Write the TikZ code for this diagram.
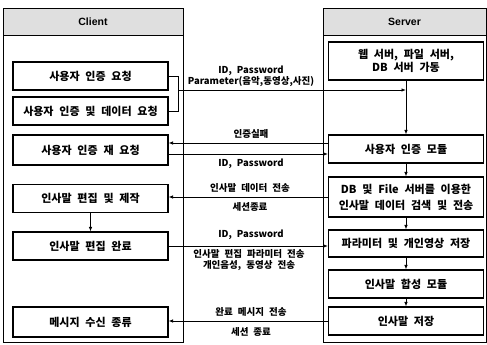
\documentclass[tikz,border=0pt]{standalone}
\usepackage{fontspec}
\setmainfont{Noto Sans CJK KR}[WordSpace=2.3]
\newfontfamily\hdrfont{Liberation Sans}
\usetikzlibrary{arrows.meta}
\begin{document}
\begin{tikzpicture}[x=1pt,y=-1pt,
  lane/.style={draw,line width=0.9pt},
  header/.style={draw,line width=0.9pt,fill=gray!25,minimum height=27pt,inner sep=0pt,font=\hdrfont\bfseries\fontsize{10.5}{12}\selectfont},
  box/.style={draw,line width=1.1pt,minimum width=155pt,minimum height=28pt,inner sep=1pt,align=center,font=\bfseries\fontsize{11}{13}\selectfont},
  lbl/.style={inner sep=0pt,font=\bfseries\fontsize{9.5}{11}\selectfont},
  conn/.style={line width=0.8pt},
  arr/.style={conn,-{Latex[length=4.5pt,width=3.5pt]}}]
\useasboundingbox (0,0) rectangle (487,345);
% lanes
\draw[lane] (3,8) rectangle (183,342);
\draw[lane] (323,8) rectangle (486,342);
\node[header,minimum width=180pt] (ch) at (93,21.5) {Client};
\node[header,minimum width=163pt] (sh) at (404.5,21.5) {Server};
% client boxes
\node[box] (c1) at (90.5,76) {사용자 인증 요청};
\node[box] (c2) at (90.5,111) {사용자 인증 및 데이터 요청};
\node[box,minimum height=30pt] (c3) at (90.5,150) {사용자 인증 재 요청};
\node[box] (c4) at (90.5,198.5) {인사말 편집 및 제작};
\node[box] (c5) at (90.5,246) {인사말 편집 완료};
\node[box,minimum height=30pt] (c6) at (90.5,322) {메시지 수신 종류};
% server boxes
\node[box,minimum height=38pt,font=\bfseries\fontsize{11}{12.5}\selectfont] (s1) at (406,61) {웹 서버, 파일 서버,\\DB 서버 가동};
\node[box] (s2) at (406,149) {사용자 인증 모듈};
\node[box,minimum height=40pt,font=\bfseries\fontsize{11}{16}\selectfont] (s3) at (406,197) {DB 및 File 서버를 이용한\\인사말 데이터 검색 및 전송};
\node[box,minimum height=27pt] (s4) at (406,243.5) {파라미터 및 개인영상 저장};
\node[box] (s5) at (406,284) {인사말 합성 모듈};
\node[box] (s6) at (406,321) {인사말 저장};
% connectors
\coordinate (bk) at (178,90);
\draw[conn] (c1.east) -- (c1.east -| bk) -- (c2.east -| bk) -- (c2.east);
\draw[arr] (bk) -- (bk -| s1.south);
\draw[arr] (s1.south) -- (s2.north);
\node[lbl] (l1) at (251,71) {ID, Password};
\node[lbl] (l2) at (251,82) {Parameter(음악,동영상,사진)};
\draw[arr] ([yshift=6pt]s2.west) -- ([yshift=6pt]s2.west -| c3.east);
\node[lbl] (l3) at (251,134) {인증실패};
\draw[arr] ([yshift=-4pt]c3.east) -- ([yshift=-4pt]c3.east -| s2.west);
\node[lbl] (l4) at (251,164) {ID, Password};
\draw[arr] (s3.west) -- (s3.west -| c4.east);
\node[lbl] (l5) at (250,188) {인사말 데이터 전송};
\node[lbl] (l6) at (250,207) {세션종료};
\draw[arr] (c4.south) -- (c5.north);
\draw[arr] (c5.east) -- (c5.east -| s4.west);
\node[lbl] (l7) at (251,235) {ID, Password};
\node[lbl] (l8) at (249,254) {인사말 편집 파라미터 전송};
\node[lbl] (l9) at (249,265.5) {개인음성, 동영상 전송};
\draw[arr] (s2.south) -- (s3.north);
\draw[arr] (s3.south) -- (s4.north);
\draw[arr] (s4.south) -- (s5.north);
\draw[arr] (s5.south) -- (s6.north);
\draw[arr] (s6.west) -- (s6.west -| c6.east);
\node[lbl] (l10) at (251,312) {완료 메시지 전송};
\node[lbl] (l11) at (251,332) {세션 종료};
\end{tikzpicture}
\end{document}
